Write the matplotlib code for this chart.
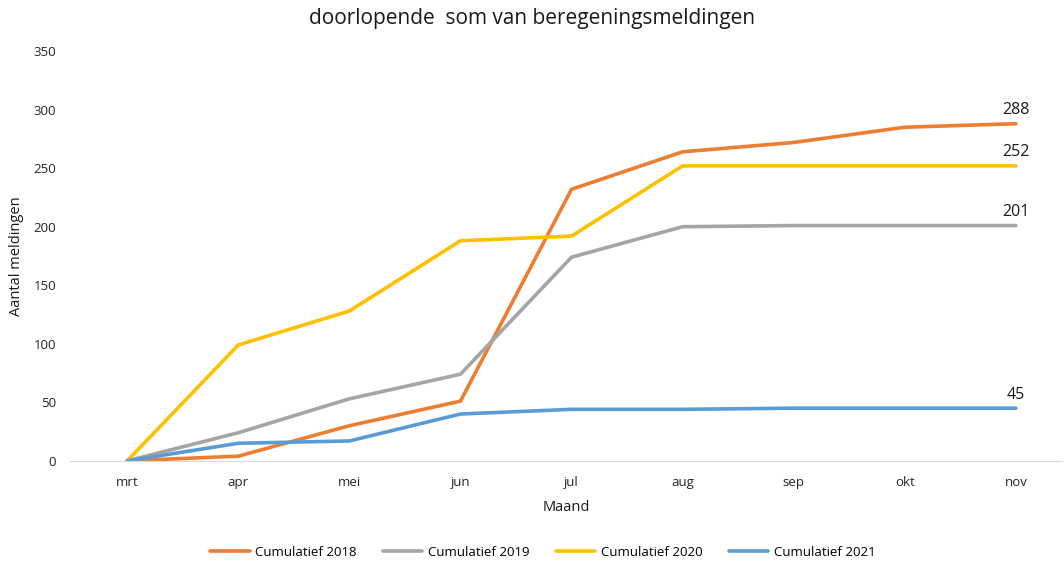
import matplotlib.pyplot as plt

months = ['mrt', 'apr', 'mei', 'jun', 'jul', 'aug', 'sep', 'okt', 'nov']
cum_2018 = [0, 4, 30, 51, 232, 264, 272, 285, 288]
cum_2019 = [0, 24, 53, 74, 174, 200, 201, 201, 201]
cum_2020 = [0, 99, 128, 188, 192, 252, 252, 252, 252]
cum_2021 = [0, 15, 17, 40, 44, 44, 45, 45, 45]

series = [
    ('Cumulatief 2018', cum_2018, '#ED7D31'),
    ('Cumulatief 2019', cum_2019, '#A5A5A5'),
    ('Cumulatief 2020', cum_2020, '#FFC000'),
    ('Cumulatief 2021', cum_2021, '#5B9BD5'),
]

plt.rcParams['font.family'] = ['Open Sans', 'DejaVu Sans']

fig = plt.figure(figsize=(10.64, 5.62), dpi=100)
ax = fig.add_axes([0.066, 0.18, 0.932, 0.729])

x = list(range(len(months)))
for label, vals, col in series:
    ax.plot(x, vals, color=col, lw=2.6, label=label, solid_capstyle='round')
    ax.annotate(str(vals[-1]), (x[-1], vals[-1]), xytext=(0, 4),
                textcoords='offset points', ha='center', va='bottom',
                fontsize=11.5, color='#1a1a1a')

ax.set_xlim(-0.513, 8.414)
ax.set_ylim(0, 350)
ax.set_yticks(range(0, 351, 50))
ax.set_xticks(x)
ax.set_xticklabels(months)
ax.tick_params(length=0, labelsize=9.5, colors='#262626')
ax.tick_params(axis='x', pad=11)
ax.tick_params(axis='y', pad=10)
for s in ['top', 'right', 'left']:
    ax.spines[s].set_visible(False)
ax.spines['bottom'].set_color('#D9D9D9')

ax.set_xlabel('Maand', fontsize=10.5, color='#1a1a1a', labelpad=8)
ax.set_ylabel('Aantal meldingen', fontsize=10.5, color='#1a1a1a')
ax.yaxis.set_label_coords(-0.047, 0.5)
fig.suptitle('doorlopende  som van beregeningsmeldingen', fontsize=15, y=0.986, color='#1a1a1a')

fig.legend(loc='lower center', ncol=4, frameon=False, fontsize=9.5,
           bbox_to_anchor=(0.51, -0.015), handlelength=3.0, columnspacing=2.0,
           handletextpad=0.4)

fig.savefig('out.png', dpi=100)
